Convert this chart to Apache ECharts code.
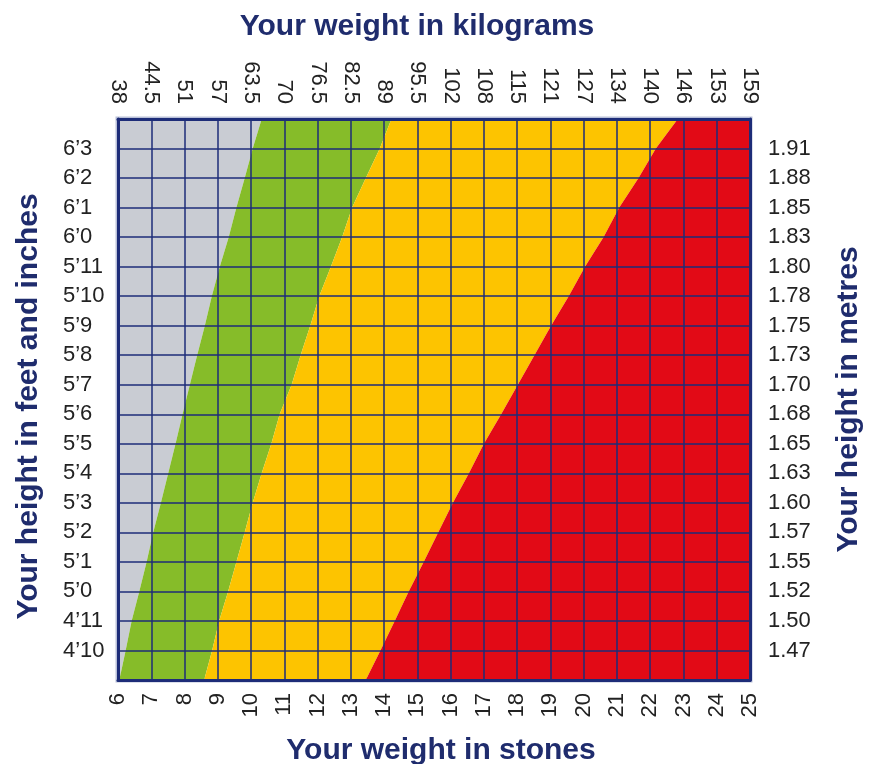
<!DOCTYPE html>
<html>
<head>
<meta charset="utf-8">
<title>Height / weight chart</title>
<script src="https://cdn.jsdelivr.net/npm/echarts@6/dist/echarts.min.js"></script>
<style>
    html, body { margin: 0; padding: 0; background: #ffffff; }
    #main { width: 873px; height: 764px; }
</style>
</head>
<body>
<div id="main"></div>
<script>
// weight ticks: stones along the bottom, the same ticks in kg along the top
var stones = ['6', '7', '8', '9', '10', '11', '12', '13', '14', '15', '16', '17', '18', '19', '20', '21', '22', '23', '24', '25'];
var kilograms = ['38', '44.5', '51', '57', '63.5', '70', '76.5', '82.5', '89', '95.5', '102', '108', '115', '121', '127', '134', '140', '146', '153', '159'];

// height in inches, bottom edge (4'9) to top edge (6'4) of the grid
var heightsIn = [57, 58, 59, 60, 61, 62, 63, 64, 65, 66, 67, 68, 69, 70, 71, 72, 73, 74, 75, 76];
// labels for 58in .. 75in
var feetInches = ['4’10', '4’11', '5’0', '5’1', '5’2', '5’3', '5’4', '5’5', '5’6', '5’7', '5’8', '5’9', '5’10', '5’11', '6’0', '6’1', '6’2', '6’3'];
var metres = ['1.47', '1.50', '1.52', '1.55', '1.57', '1.60', '1.63', '1.65', '1.68', '1.70', '1.73', '1.75', '1.78', '1.80', '1.83', '1.85', '1.88', '1.91'];

// band edges (in stones) at each height of heightsIn
var underweightEdge = [6.04, 6.23, 6.41, 6.64, 6.86, 7.06, 7.29, 7.51, 7.73, 7.94, 8.16, 8.38, 8.61, 8.82, 9.06, 9.33, 9.56, 9.81, 10.05, 10.32];
var healthyEdge = [8.59, 8.83, 9.04, 9.31, 9.56, 9.81, 10.05, 10.32, 10.61, 10.86, 11.22, 11.49, 11.78, 12.05, 12.40, 12.74, 13.04, 13.45, 13.87, 14.22];
var overweightEdge = [13.45, 13.89, 14.32, 14.74, 15.19, 15.63, 16.07, 16.55, 17.00, 17.52, 18.02, 18.52, 19.02, 19.55, 20.04, 20.60, 21.07, 21.65, 22.17, 22.83];

var navy = '#1d2c78';
var titleColor = '#1f2c6d';
var labelFont = "'Liberation Sans', Arial, sans-serif";

function titleStyle(padding) {
    return {
        color: titleColor,
        fontWeight: 'bold',
        fontSize: 30,
        fontFamily: labelFont,
        padding: padding
    };
}

var tickStyle = {
    color: '#222222',
    fontSize: 22,
    fontFamily: labelFont
};

// polygon between two edges (an edge is an array or a fixed stone value)
function band(name, color, left, right) {
    return {
        type: 'custom',
        name: name,
        silent: true,
        xAxisIndex: 0,
        yAxisIndex: 0,
        data: [0],
        renderItem: function(params, api) {
            var pts = [];
            var i;
            for (i = 0; i < heightsIn.length; i++) {
                pts.push(api.coord([Array.isArray(left) ? left[i] : left, heightsIn[i]]));
            }
            for (i = heightsIn.length - 1; i >= 0; i--) {
                pts.push(api.coord([Array.isArray(right) ? right[i] : right, heightsIn[i]]));
            }
            return {
                type: 'polygon',
                shape: { points: pts },
                style: { fill: color }
            };
        }
    };
}

function xAxisOpt(pos, labels, name, nameGap, margin, namePad) {
    return {
        type: 'value',
        position: pos,
        min: 6,
        max: 25,
        interval: 1,
        z: 10,
        name: name,
        nameLocation: 'middle',
        nameGap: nameGap,
        nameTextStyle: titleStyle(namePad),
        axisLine: { show: true, onZero: false, lineStyle: { color: navy, width: 3 } },
        axisTick: { show: false },
        axisLabel: Object.assign({
            rotate: 90,
            margin: margin,
            formatter: function(v) { return labels[v - 6]; }
        }, tickStyle),
        splitLine: { show: pos === 'bottom', lineStyle: { color: navy, width: 1.5 } }
    };
}

function yAxisOpt(pos, labels, name, nameGap, margin, namePad) {
    return {
        type: 'value',
        position: pos,
        min: 57,
        max: 76,
        interval: 1,
        z: 10,
        name: name,
        nameLocation: 'middle',
        nameGap: nameGap,
        nameRotate: 90,
        nameTextStyle: titleStyle(namePad),
        axisLine: { show: true, onZero: false, lineStyle: { color: navy, width: 3 } },
        axisTick: { show: false },
        axisLabel: Object.assign({
            align: 'left',
            margin: margin,
            showMinLabel: false,
            showMaxLabel: false,
            formatter: function(v) { return labels[v - 58] || ''; }
        }, tickStyle),
        splitLine: { show: pos === 'left', lineStyle: { color: navy, width: 1.5 } }
    };
}

var myChart = echarts.init(document.getElementById('main'));
myChart.setOption({
    animation: false,
    backgroundColor: '#ffffff',
    grid: {
        left: 118,
        right: 123,
        top: 119,
        bottom: 84,
        containLabel: false,
        outerBoundsMode: 'none',
        show: true,
        borderColor: '#b9c0d8',
        borderWidth: 5
    },
    xAxis: [
        xAxisOpt('bottom', stones, 'Your weight in stones', 56, 13, [0, 0, 0, 14]),
        xAxisOpt('top', kilograms, 'Your weight in kilograms', 77, 15, [0, 34, 0, 0])
    ],
    yAxis: [
        yAxisOpt('left', feetInches, 'Your height in feet and inches', 74, 55, [0, 14, 0, 0]),
        yAxisOpt('right', metres, 'Your height in metres', 84, 18, 0)
    ],
    series: [
        band('Underweight', '#c9ccd3', 6, underweightEdge),
        band('Healthy', '#86bc29', underweightEdge, healthyEdge),
        band('Overweight', '#fdc400', healthyEdge, overweightEdge),
        band('Obese', '#e20a16', overweightEdge, 25)
    ]
});
</script>
</body>
</html>
